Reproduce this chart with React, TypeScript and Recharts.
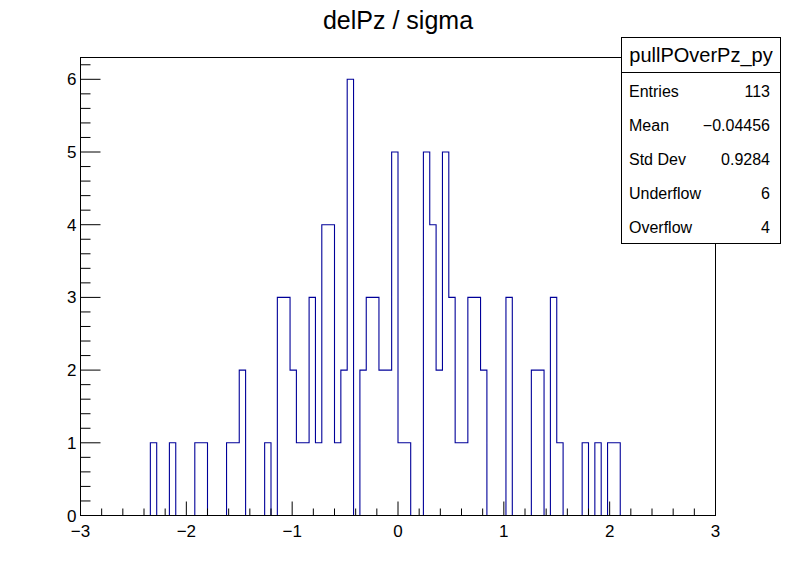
import { ComposedChart, Line, XAxis, YAxis } from "recharts";

// histogram binning: 100 bins from -3 to 3
const binLow = -3;
const binHigh = 3;
const counts = [
  0, 0, 0, 0, 0, 0, 0, 0, 0, 0,
  0, 1, 0, 0, 1, 0, 0, 0, 1, 1,
  0, 0, 0, 1, 1, 2, 0, 0, 0, 1,
  0, 3, 3, 2, 1, 1, 3, 1, 4, 4,
  1, 2, 6, 0, 2, 3, 3, 2, 2, 5,
  1, 1, 0, 0, 5, 4, 2, 5, 3, 1,
  1, 3, 3, 2, 0, 0, 0, 3, 0, 0,
  0, 2, 2, 0, 3, 1, 0, 0, 0, 1,
  0, 1, 0, 1, 1, 0, 0, 0, 0, 0,
  0, 0, 0, 0, 0, 0, 0, 0, 0, 0,
];

const title = "delPz / sigma";
const statsName = "pullPOverPz_py";
const statLabels = ["Entries", "Mean", "Std Dev", "Underflow", "Overflow"];
const statValues = ["113", "\u22120.04456", "0.9284", "6", "4"];

const yMax = 6.3;
const xTicks = Array.from({ length: 31 }, (_, i) => Math.round((-3 + i * 0.2) * 10) / 10);
const yTicks = Array.from({ length: 32 }, (_, i) => Math.round(i * 2) / 10);

const binWidth = (binHigh - binLow) / counts.length;
const data = counts.map((c, k) => ({ x: binLow + k * binWidth, y: c }));
data.push({ x: binHigh, y: counts[counts.length - 1] });

const FONT = "'Liberation Sans', Arial, Helvetica, sans-serif";

const isMajor = (v: number) => Math.abs(v - Math.round(v)) < 1e-6;
const fmt = (v: number) => String(Math.round(v)).replace("-", "\u2212");

function XTick(props: any) {
  const { x, y, payload } = props;
  const v = payload.value;
  const major = isMajor(v);
  return (
    <g>
      <line x1={x} x2={x} y1={y} y2={y - (major ? 14 : 7)} stroke="#000" strokeWidth={1} />
      {major && (
        <text x={x} y={y + 21} textAnchor="middle" fontSize={17} fontFamily={FONT} fill="#000">
          {fmt(v)}
        </text>
      )}
    </g>
  );
}

function YTick(props: any) {
  const { x, y, payload } = props;
  const v = payload.value;
  const major = isMajor(v);
  return (
    <g>
      <line x1={x} x2={x + (major ? 20 : 10)} y1={y} y2={y} stroke="#000" strokeWidth={1} />
      {major && (
        <text x={x - 4} y={y + 6} textAnchor="end" fontSize={17} fontFamily={FONT} fill="#000">
          {fmt(v)}
        </text>
      )}
    </g>
  );
}

export default function App() {
  return (
    <div style={{ position: "absolute", left: 0, top: 0, width: 796, height: 572, background: "#fff" }}>
      <ComposedChart width={796} height={572} data={data} margin={{ top: 57.5, right: 80.5, bottom: 0, left: 0 }}>
        <XAxis
          dataKey="x"
          type="number"
          domain={[binLow, binHigh]}
          ticks={xTicks}
          interval={0}
          height={56.5}
          tickSize={0}
          tickMargin={0}
          axisLine={false}
          tickLine={false}
          tick={<XTick />}
        />
        <YAxis
          type="number"
          domain={[0, yMax]}
          ticks={yTicks}
          interval={0}
          width={80.5}
          tickSize={0}
          tickMargin={0}
          axisLine={false}
          tickLine={false}
          tick={<YTick />}
        />
        <Line
          type="stepAfter"
          dataKey="y"
          stroke="#000099"
          strokeWidth={1.1}
          dot={false}
          activeDot={false}
          isAnimationActive={false}
        />
      </ComposedChart>
      <svg width={796} height={572} style={{ position: "absolute", left: 0, top: 0, pointerEvents: "none" }}>
        <rect x={80.5} y={57.5} width={635} height={458} fill="none" stroke="#000" strokeWidth={1} />
        <text x={398} y={29} textAnchor="middle" fontSize={25} fontFamily={FONT} fill="#000">
          {title}
        </text>
        <rect x={621.5} y={37.5} width={159} height={206} fill="#fff" stroke="#000" strokeWidth={1} />
        <line x1={621.5} x2={780.5} y1={72.5} y2={72.5} stroke="#000" strokeWidth={1} />
        <text x={701} y={62} textAnchor="middle" fontSize={20} fontFamily={FONT} fill="#000">
          {statsName}
        </text>
        {statLabels.map((label, i) => (
          <g key={label}>
            <text x={629} y={96.5 + i * 34} fontSize={16} fontFamily={FONT} fill="#000">
              {label}
            </text>
            <text x={770} y={96.5 + i * 34} textAnchor="end" fontSize={16} fontFamily={FONT} fill="#000">
              {statValues[i]}
            </text>
          </g>
        ))}
      </svg>
    </div>
  );
}
